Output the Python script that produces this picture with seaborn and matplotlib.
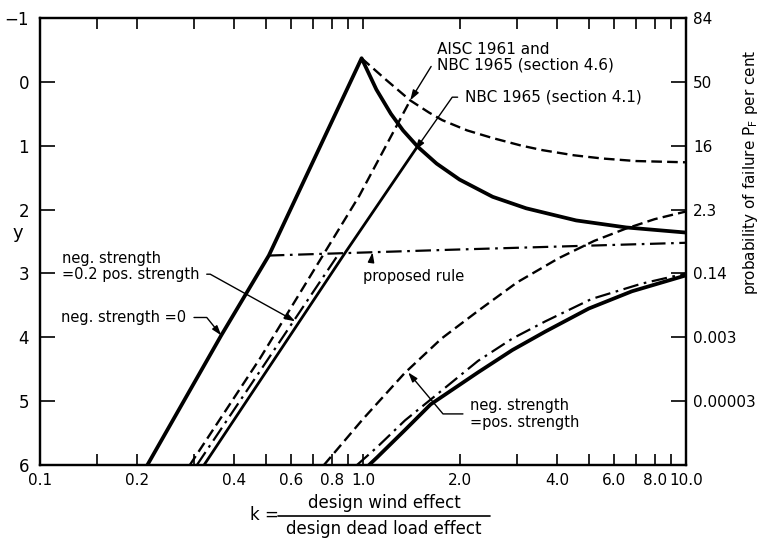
import pandas as pd
import seaborn as sns
import matplotlib.pyplot as plt
from matplotlib.lines import Line2D
from matplotlib.ticker import FixedLocator, NullFormatter

# neg. strength = 0 (thick solid): rising branch, peak, falling branch
k_zero = [0.215, 0.364, 0.511, 0.99, 1.10, 1.22, 1.33, 1.48, 1.69, 1.99, 2.52, 3.20, 4.57, 6.53, 10.0]
y_zero = [6.0, 3.97, 2.72, -0.37, 0.12, 0.50, 0.76, 1.02, 1.28, 1.53, 1.80, 1.98, 2.17, 2.28, 2.36]

# AISC 1961 and NBC 1965 (section 4.6), dashed
k_aisc_fall = [0.99, 1.18, 1.40, 1.60, 1.76, 2.10, 2.52, 3.10, 3.60, 4.50, 5.50, 7.00, 10.0]
y_aisc_fall = [-0.37, -0.03, 0.29, 0.48, 0.60, 0.76, 0.88, 1.00, 1.07, 1.15, 1.20, 1.24, 1.26]
k_aisc_rise = [0.291, 0.48, 0.975, 1.40]
y_aisc_rise = [6.0, 4.33, 1.78, 0.29]

# NBC 1965 (section 4.1), thin solid
k_nbc41 = [0.322, 0.885, 1.48]
y_nbc41 = [6.0, 2.66, 1.0]

# proposed rule, dash-dot
k_prop_rise = [0.306, 0.842]
y_prop_rise = [6.0, 2.69]
k_prop = [0.511, 1.845, 10.0]
y_prop = [2.72, 2.63, 2.52]

# neg. strength = pos. strength family
k_eq_dash = [0.757, 1.00, 1.346, 1.75, 2.28, 3.00, 4.04, 5.20, 6.50, 8.00, 10.0]
y_eq_dash = [6.0, 5.28, 4.56, 4.02, 3.58, 3.14, 2.76, 2.49, 2.30, 2.15, 2.03]
k_eq_dd = [0.958, 1.106, 1.35, 1.652, 2.27, 2.90, 3.67, 5.10, 7.29, 10.0]
y_eq_dd = [6.0, 5.72, 5.30, 4.94, 4.37, 4.02, 3.75, 3.40, 3.16, 3.0]
k_eq_solid = [1.044, 1.106, 1.35, 1.62, 2.27, 2.90, 3.67, 5.00, 6.80, 10.0]
y_eq_solid = [6.0, 5.88, 5.45, 5.05, 4.55, 4.20, 3.91, 3.55, 3.28, 3.03]

# axes
x_major = [0.1, 0.2, 0.4, 0.6, 0.8, 1.0, 2.0, 4.0, 6.0, 8.0, 10.0]
x_labels = ['0.1', '0.2', '0.4', '0.6', '0.8', '1.0', '2.0', '4.0', '6.0', '8.0', '10.0']
x_minor = [0.15, 0.3, 0.5, 0.7, 0.9, 3, 5, 7, 9]
y_ticks = [-1, 0, 1, 2, 3, 4, 5, 6]
p_ticks = [-1, 0, 1, 2, 3, 4, 5]
p_labels = ['84', '50', '16', '2.3', '0.14', '0.003', '0.00003']

sns.set_style("ticks")
plt.rcParams['font.family'] = ['DejaVu Sans']
plt.rcParams.update({'text.color': 'black', 'axes.labelcolor': 'black',
                     'xtick.color': 'black', 'ytick.color': 'black'})

fig = plt.figure(figsize=(7.66, 5.4), dpi=100)
ax = fig.add_axes([40 / 766, 1 - 465 / 540, 646 / 766, 447 / 540])

DASH = (0, (4.5, 2.2))
DASHDOT = (0, (7, 2.5, 1.2, 2.5))


def curve(k, y, lw, ls):
    df = pd.DataFrame({'k': k, 'y': y})
    sns.lineplot(data=df, x='k', y='y', ax=ax, color='black', linewidth=lw,
                 linestyle=ls, sort=False, estimator=None)


curve(k_zero, y_zero, 2.7, '-')
curve(k_aisc_fall, y_aisc_fall, 1.7, DASH)
curve(k_aisc_rise, y_aisc_rise, 1.7, DASH)
curve(k_nbc41, y_nbc41, 2.0, '-')
curve(k_prop_rise, y_prop_rise, 1.6, DASHDOT)
curve(k_prop, y_prop, 1.6, DASHDOT)
curve(k_eq_dash, y_eq_dash, 1.7, DASH)
curve(k_eq_dd, y_eq_dd, 1.6, DASHDOT)
curve(k_eq_solid, y_eq_solid, 2.7, '-')

ax.set_xscale('log')
ax.set_xlim(0.1, 10)
ax.set_ylim(6, -1)
ax.set_xticks(x_major)
ax.set_xticklabels(x_labels)
ax.xaxis.set_minor_locator(FixedLocator(x_minor))
ax.xaxis.set_minor_formatter(NullFormatter())
ax.tick_params(axis='x', which='both', direction='in', top=True, length=8,
               width=1.2, pad=6, labelsize=11)
ax.set_yticks(y_ticks)
ax.set_yticklabels([str(v).replace('-', '\u2212') for v in y_ticks])
ax.tick_params(axis='y', direction='in', length=11, width=1.2, pad=8, labelsize=12)
ax.set_xlabel('')
ax.set_ylabel('')

ax2 = ax.twinx()
ax2.set_ylim(6, -1)
ax2.set_yticks(p_ticks)
ax2.set_yticklabels(p_labels)
ax2.tick_params(axis='y', direction='in', length=11, width=1.2, pad=5, labelsize=11)

for a in (ax, ax2):
    for s in a.spines.values():
        s.set_linewidth(1.6)
        s.set_color('black')

arrow = dict(arrowstyle='-|>,head_length=0.55,head_width=0.18', color='black',
             lw=1.0, shrinkA=3, shrinkB=0)

ax.annotate('AISC 1961 and\nNBC 1965 (section 4.6)', xy=(1.40, 0.29), xytext=(1.69, -0.38),
            ha='left', va='center', fontsize=11, linespacing=1.05,
            arrowprops=dict(arrow, relpos=(0, 0.5)))
ax.annotate('NBC 1965 (section 4.1)', xy=(1.45, 1.07), xytext=(2.07, 0.24),
            ha='left', va='center', fontsize=11,
            arrowprops=dict(arrow, relpos=(0, 0.5),
                            connectionstyle='angle,angleA=0,angleB=55'))
ax.annotate('proposed rule', xy=(1.07, 2.67), xytext=(1.0, 3.05),
            ha='left', va='center', fontsize=10.5,
            arrowprops=dict(arrow, relpos=(0.07, 1.0)))
ax.annotate('neg. strength\n=0.2 pos. strength', xy=(0.617, 3.75), xytext=(0.1168, 2.89),
            ha='left', va='center', fontsize=10.5, linespacing=1.1,
            arrowprops=dict(arrow, relpos=(1, 0.25),
                            connectionstyle='angle,angleA=0,angleB=-29'))
ax.annotate('neg. strength =0', xy=(0.364, 3.97), xytext=(0.1165, 3.69),
            ha='left', va='center', fontsize=10.5,
            arrowprops=dict(arrow, relpos=(1, 0.5),
                            connectionstyle='angle,angleA=0,angleB=-51'))
ax.annotate('neg. strength\n=pos. strength', xy=(1.38, 4.55), xytext=(2.15, 5.2),
            ha='left', va='center', fontsize=10.5, linespacing=1.1,
            arrowprops=dict(arrow, relpos=(0, 0.5),
                            connectionstyle='angle,angleA=0,angleB=130'))

# axis titles
fig.text(18 / 766, 1 - 233 / 540, 'y', fontsize=13, ha='center', va='center')
fig.text(750 / 766, 1 - 172 / 540, r'probability of failure P$_\mathregular{F}$ per cent',
         rotation=90, fontsize=11, ha='center', va='center')
fig.text(264 / 766, 1 - 515 / 540, 'k =', fontsize=12, ha='center', va='center')
fig.text(384 / 766, 1 - 503 / 540, 'design wind effect', fontsize=12, ha='center', va='center')
fig.text(384 / 766, 1 - 529 / 540, 'design dead load effect', fontsize=12, ha='center', va='center')
fig.add_artist(Line2D([278 / 766, 490 / 766], [1 - 516 / 540, 1 - 516 / 540],
                      transform=fig.transFigure, color='black', lw=1.2))

fig.savefig('out.png', dpi=100, facecolor='white')
